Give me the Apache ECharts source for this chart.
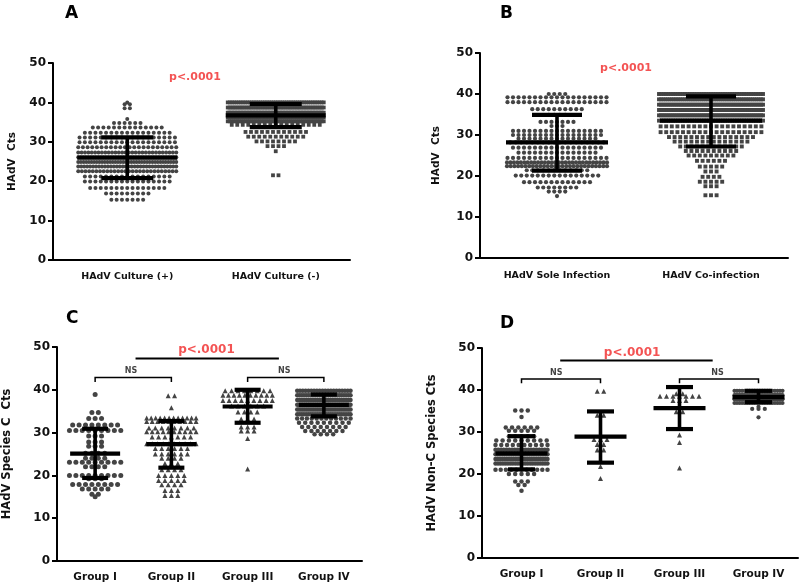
<!DOCTYPE html>
<html><head><meta charset="utf-8">
<script src="https://cdn.jsdelivr.net/npm/echarts@6/dist/echarts.min.js"></script>
<style>html,body{margin:0;padding:0;background:#fff}#c{width:800px;height:583px}</style>
</head><body><div id="c"></div>
<script>
// ---------- DATA (rows: [Ct value, number of specimens in that row]) ----------
const catsA = ['HAdV Culture (+)', 'HAdV Culture (-)'];
const catsB = ['HAdV Sole Infection', 'HAdV Co-infection'];
const catsCD = ['Group I', 'Group II', 'Group III', 'Group IV'];
const yTicks = [0, 10, 20, 30, 40, 50];

const cultPos = [[40.0,1],[39.5,2],[38.5,2],[35.8,1],[34.8,6],[33.6,14],[32.3,17],[31.1,19],[29.9,19],[28.6,22],[27.3,30],[26.1,40],[24.9,38],[23.7,34],[22.5,28],[21.2,17],[19.9,17],[18.3,15],[16.9,9],[15.3,7]];
const cultNeg = [[40.0,45],[38.7,55],[37.4,65],[36.2,70],[35.2,50],[34.3,17],[32.5,12],[31.3,11],[30.1,8],[28.9,4],[27.6,1],[21.5,2]];
const soleInf = [[40.0,4],[39.2,19],[38.0,19],[36.3,10],[34.9,4],[33.2,7],[32.2,3],[31.0,17],[30.0,17],[29.1,15],[28.2,18],[26.9,17],[25.7,15],[24.4,19],[23.3,30],[22.4,28],[21.4,12],[20.1,16],[18.5,13],[17.2,8],[16.2,4],[15.1,1]];
const coInf = [[40.0,45],[38.7,50],[37.4,55],[36.1,60],[34.8,55],[33.5,45],[32.1,19],[30.7,19],[29.5,16],[28.4,14],[27.2,12],[26.1,10],[25.0,9],[23.7,6],[22.3,5],[21.1,3],[19.8,4],[18.6,5],[17.5,3],[15.3,3]];

const grpC1 = [[38.9,1],[34.7,2],[33.3,3],[31.8,8],[30.5,9],[29.2,3],[27.8,3],[26.8,3],[25.2,4],[24.0,4],[23.1,9],[22.0,4],[20.0,9],[19.2,3],[17.9,8],[16.8,5],[15.6,2],[15.0,1]];
const grpC2 = [[38.6,2],[35.8,1],[33.4,12],[32.6,10],[31.1,8],[30.2,10],[29.0,7],[27.4,10],[26.3,6],[25.0,6],[24.0,4],[22.8,3],[21.3,4],[20.0,5],[18.8,5],[17.8,4],[16.5,3],[15.3,3]];
const grpC3 = [[39.8,8],[38.7,10],[37.5,9],[36.2,6],[34.8,4],[33.2,3],[31.3,3],[30.4,3],[28.6,1],[21.5,1]];
const grpC4 = [[39.8,20],[38.7,25],[37.6,30],[36.5,40],[35.4,30],[34.3,25],[33.3,12],[32.3,9],[31.3,8],[30.4,7],[29.6,4]];

const grpD1 = [[35.1,3],[33.6,1],[31.1,6],[30.3,5],[29.0,5],[28.0,9],[26.9,10],[25.8,20],[24.7,30],[23.6,30],[22.5,22],[21.0,11],[20.0,5],[18.2,3],[17.4,2],[16.0,1]];
const grpD2 = [[39.7,2],[34.0,2],[28.2,3],[27.0,2],[25.7,2],[21.8,1],[18.9,1]];
const grpD3 = [[39.1,2],[38.5,7],[37.5,3],[34.8,2],[29.3,1],[27.5,1],[21.4,1]];
const grpD4 = [[39.8,20],[38.8,30],[37.8,35],[36.9,20],[36.0,1],[35.5,3],[33.5,1]];

// mean and SD bars
const meanA = [26.0, 36.7], lowA = [20.8, 33.7], highA = [31.1, 39.6];
const meanB = [28.2, 33.5], lowB = [21.3, 27.2], highB = [34.9, 39.4];
const meanC = [25.1, 27.3, 36.1, 36.5], lowC = [19.4, 21.8, 32.3, 33.8], highC = [30.9, 32.7, 40.0, 38.9];
const meanD = [24.9, 28.9, 35.7, 38.3], lowD = [21.1, 22.7, 30.7, 37.1], highD = [29.0, 34.9, 40.7, 39.8];

// ---------- LAYOUT ----------
const panels = [
  {grid:{left:53, top:63, width:297, height:197}, cats:catsA, yName:'HAdV  Cts', nameGap:35, nameSize:10.5, labelSize:9.5, labelMargin:12,
   groups:[{rows:cultPos, sym:'circle', size:4, gap:5.3, half:49},{rows:cultNeg, sym:'rect', size:3.8, gap:5.5, half:48}],
   mean:meanA, low:lowA, high:highA, meanHalf:50, capHalf:26},
  {grid:{left:480, top:53, width:308, height:205}, cats:catsB, yName:'HAdV  Cts', nameGap:38, nameSize:10.5, labelSize:9.5, labelMargin:13,
   groups:[{rows:soleInf, sym:'circle', size:4.2, gap:5.5, half:50},{rows:coInf, sym:'rect', size:3.9, gap:5.6, half:52}],
   mean:meanB, low:lowB, high:highB, meanHalf:51, capHalf:25},
  {grid:{left:53, top:347, width:309, height:214}, cats:catsCD, yName:'HAdV Species C  Cts', nameGap:44, nameSize:11.5, labelSize:10.5, labelMargin:11,
   groups:[{rows:grpC1, sym:'circle', size:5, gap:6.5, half:27},{rows:grpC2, sym:'triangle', size:5, gap:6.5, half:25},
           {rows:grpC3, sym:'triangle', size:5, gap:6.5, half:25},{rows:grpC4, sym:'circle', size:4.5, gap:6.3, half:27}],
   mean:meanC, low:lowC, high:highC, meanHalf:25, capHalf:13},
  {grid:{left:482, top:348, width:316, height:210}, cats:catsCD, yName:'HAdV Non-C Species Cts', nameGap:44, nameSize:11.5, labelSize:10.5, labelMargin:11,
   groups:[{rows:grpD1, sym:'circle', size:4.5, gap:6.3, half:26},{rows:grpD2, sym:'triangle', size:5, gap:6.5, half:25},
           {rows:grpD3, sym:'triangle', size:5, gap:6.5, half:25},{rows:grpD4, sym:'circle', size:4.2, gap:6.3, half:24}],
   mean:meanD, low:lowD, high:highD, meanHalf:26, capHalf:13.5}
];

function swarm(rows, idx, catW, gap, maxHalf) {
  const pts = [];
  rows.forEach(function (r) {
    const v = r[0], n = r[1];
    let step = gap;
    if (n > 1 && (n - 1) * step > 2 * maxHalf) step = 2 * maxHalf / (n - 1);
    for (let k = 0; k < n; k++) {
      const off = (k - (n - 1) / 2) * step;
      pts.push([idx + off / catW, v]);
    }
  });
  return pts;
}

function errRender(meanHalf, capHalf) {
  return function (params, api) {
    const i = api.value(0);
    const m = api.coord([i, api.value(1)]);
    const lo = api.coord([i, api.value(2)]);
    const hi = api.coord([i, api.value(3)]);
    const s4 = {stroke:'#000', lineWidth:4.2};
    const s3 = {stroke:'#000', lineWidth:3.6};
    return {type:'group', children:[
      {type:'line', shape:{x1:lo[0], y1:lo[1], x2:hi[0], y2:hi[1]}, style:s3},
      {type:'line', shape:{x1:m[0]-meanHalf, y1:m[1], x2:m[0]+meanHalf, y2:m[1]}, style:s4},
      {type:'line', shape:{x1:lo[0]-capHalf, y1:lo[1], x2:lo[0]+capHalf, y2:lo[1]}, style:s4},
      {type:'line', shape:{x1:hi[0]-capHalf, y1:hi[1], x2:hi[0]+capHalf, y2:hi[1]}, style:s4}
    ]};
  };
}

const FONT = 'DejaVu Sans';
const option = {animation:false, backgroundColor:'#fff',
  title:[
    {text:'A', left:60, top:0, textStyle:{fontSize:17, fontWeight:'bold', fontFamily:FONT, color:'#000'}},
    {text:'B', left:495, top:0, textStyle:{fontSize:17, fontWeight:'bold', fontFamily:FONT, color:'#000'}},
    {text:'C', left:61, top:305, textStyle:{fontSize:17, fontWeight:'bold', fontFamily:FONT, color:'#000'}},
    {text:'D', left:495, top:310, textStyle:{fontSize:17, fontWeight:'bold', fontFamily:FONT, color:'#000'}}
  ],
  grid:[], xAxis:[], yAxis:[], series:[]};

panels.forEach(function (p, pi) {
  const n = p.cats.length;
  const catW = p.grid.width / n;
  option.grid.push(Object.assign({containLabel:false}, p.grid));
  option.xAxis.push({type:'category', gridIndex:pi, data:p.cats, boundaryGap:true,
    axisLine:{onZero:false, lineStyle:{color:'#000', width:2}},
    axisTick:{alignWithLabel:true, length:5, lineStyle:{color:'#000', width:2}},
    axisLabel:{fontFamily:FONT, fontWeight:'bold', fontSize:p.labelSize, color:'#111', margin:p.labelMargin, interval:0},
    splitLine:{show:false}});
  option.xAxis.push({type:'value', gridIndex:pi, min:-0.5, max:n - 0.5, show:false});
  option.yAxis.push({type:'value', gridIndex:pi, min:yTicks[0], max:yTicks[yTicks.length-1], interval:yTicks[1]-yTicks[0],
    axisLine:{show:true, onZero:false, lineStyle:{color:'#000', width:2}},
    axisTick:{show:true, length:5, lineStyle:{color:'#000', width:2}},
    axisLabel:{fontFamily:FONT, fontWeight:'bold', fontSize:12, color:'#111', margin:7},
    splitLine:{show:false},
    name:p.yName, nameLocation:'middle', nameGap:p.nameGap, nameRotate:90,
    nameTextStyle:{fontFamily:FONT, fontWeight:'bold', fontSize:p.nameSize, color:'#111'}});
  const xi = pi * 2 + 1;
  p.groups.forEach(function (g, gi) {
    option.series.push({type:'scatter', xAxisIndex:xi, yAxisIndex:pi, symbol:g.sym, symbolSize:g.size,
      itemStyle:{color:'#444', opacity:1}, silent:true, z:2,
      data:swarm(g.rows, gi, catW, g.gap, g.half)});
  });
  option.series.push({type:'custom', xAxisIndex:xi, yAxisIndex:pi, z:5, silent:true,
    renderItem:errRender(p.meanHalf, p.capHalf),
    encode:{x:0, y:[1,2,3]},
    data:p.mean.map(function (m, i) { return [i, m, p.low[i], p.high[i]]; })});
});

// annotations (placed in axis units)
function textSeries(pi, items) {
  return {type:'scatter', xAxisIndex:pi*2+1, yAxisIndex:pi, symbolSize:1, itemStyle:{color:'rgba(0,0,0,0)'}, silent:true, z:6,
    data:items.map(function (t) {
      return {value:[t.x, t.y], label:{show:true, position:'inside', formatter:t.text, color:t.color,
        fontFamily:FONT, fontWeight:'bold', fontSize:t.size}};
    })};
}
const red = '#f02828';
option.series.push(textSeries(0, [{x:0.456, y:46.3, text:'p<.0001', color:red, size:11}]));
option.series.push(textSeries(1, [{x:0.448, y:46.2, text:'p<.0001', color:red, size:11}]));
option.series.push(textSeries(2, [{x:1.46, y:49.3, text:'p<.0001', color:red, size:12},
  {x:0.47, y:44.4, text:'NS', color:'#111', size:8}, {x:2.48, y:44.4, text:'NS', color:'#111', size:8}]));
option.series.push(textSeries(3, [{x:1.40, y:48.9, text:'p<.0001', color:red, size:12},
  {x:0.44, y:44.0, text:'NS', color:'#111', size:8}, {x:2.48, y:44.0, text:'NS', color:'#111', size:8}]));

function bracketSeries(pi, lines) {
  return {type:'lines', coordinateSystem:'cartesian2d', xAxisIndex:pi*2+1, yAxisIndex:pi, polyline:true, silent:true, z:6,
    lineStyle:{opacity:1},
    data:lines.map(function (l) { return {coords:l.coords, lineStyle:{color:'#000', width:l.w, opacity:1}}; })};
}
option.series.push(bracketSeries(2, [
  {coords:[[0.53,47.3],[2.41,47.3]], w:2},
  {coords:[[0,41.8],[0,42.85],[1,42.85],[1,41.8]], w:1.5},
  {coords:[[2,41.8],[2,42.85],[3,42.85],[3,41.8]], w:1.5}]));
option.series.push(bracketSeries(3, [
  {coords:[[0.49,47.0],[2.42,47.0]], w:2},
  {coords:[[0,41.6],[0,42.6],[1,42.6],[1,41.6]], w:1.5},
  {coords:[[2,41.6],[2,42.6],[3,42.6],[3,41.6]], w:1.5}]));

const chart = echarts.init(document.getElementById('c'), null, {renderer:'canvas'});
chart.setOption(option);
</script></body></html>
